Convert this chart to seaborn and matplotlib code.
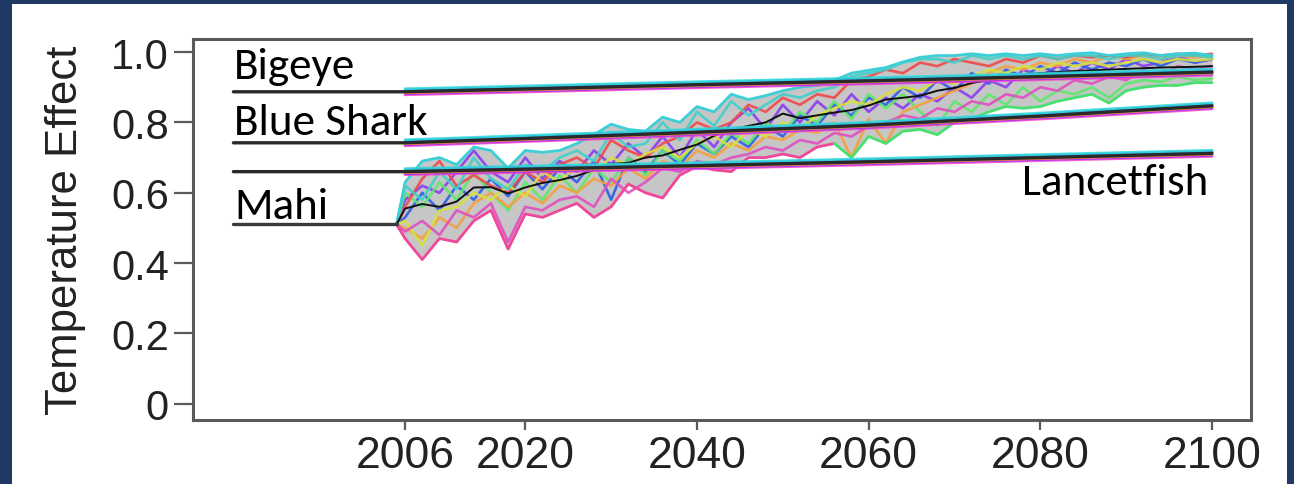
import numpy as np
import pandas as pd
import matplotlib
matplotlib.use("Agg")
import matplotlib.pyplot as plt
from matplotlib.patches import Rectangle
from matplotlib.transforms import offset_copy
from matplotlib import font_manager as fm
import seaborn as sns

# ---------------- data ----------------
# projection years (2005 start, then every second year)
proj_years = [2005] + list(range(2006, 2101, 2))

mahi_mean = [0.51,
    0.555, 0.568, 0.560, 0.575, 0.615, 0.616, 0.598, 0.615, 0.628, 0.636,
    0.648, 0.665, 0.682, 0.685, 0.700, 0.706, 0.722, 0.737, 0.762, 0.780,
    0.790, 0.800, 0.825, 0.812, 0.820, 0.828, 0.835, 0.848, 0.865, 0.870,
    0.876, 0.890, 0.898, 0.912, 0.920, 0.928, 0.935, 0.940, 0.943, 0.946,
    0.948, 0.950, 0.952, 0.954, 0.956, 0.957, 0.958, 0.960]
mahi_upper = [0.51,
    0.630, 0.690, 0.700, 0.680, 0.730, 0.720, 0.670, 0.720, 0.715, 0.720,
    0.740, 0.765, 0.795, 0.780, 0.775, 0.815, 0.800, 0.845, 0.830, 0.880,
    0.865, 0.876, 0.890, 0.900, 0.905, 0.920, 0.940, 0.948, 0.956, 0.972,
    0.985, 0.990, 0.990, 0.995, 0.990, 0.995, 0.990, 0.995, 0.990, 0.995,
    0.998, 0.990, 0.995, 0.998, 0.990, 0.995, 0.997, 0.990]
mahi_lower = [0.51,
    0.470, 0.410, 0.470, 0.460, 0.520, 0.550, 0.440, 0.540, 0.530, 0.550,
    0.570, 0.530, 0.560, 0.625, 0.600, 0.585, 0.650, 0.675, 0.665, 0.660,
    0.700, 0.700, 0.710, 0.700, 0.730, 0.740, 0.700, 0.760, 0.740, 0.775,
    0.780, 0.765, 0.800, 0.810, 0.830, 0.845, 0.840, 0.845, 0.860, 0.870,
    0.880, 0.855, 0.890, 0.900, 0.905, 0.905, 0.913, 0.913]

# individual model runs for Mahi
run_purple = [0.51,
    0.58, 0.62, 0.60, 0.66, 0.72, 0.66, 0.63, 0.70, 0.64, 0.69,
    0.66, 0.72, 0.68, 0.74, 0.70, 0.76, 0.70, 0.78, 0.73, 0.80,
    0.84, 0.78, 0.85, 0.80, 0.86, 0.82, 0.88, 0.83, 0.87, 0.84,
    0.88, 0.86, 0.90, 0.87, 0.92, 0.90, 0.95, 0.93, 0.96, 0.94,
    0.97, 0.95, 0.98, 0.96, 0.97, 0.99, 0.97, 0.98]
run_blue = [0.51,
    0.53, 0.60, 0.55, 0.62, 0.58, 0.64, 0.59, 0.66, 0.61, 0.67,
    0.63, 0.69, 0.58, 0.70, 0.66, 0.72, 0.68, 0.74, 0.71, 0.76,
    0.73, 0.79, 0.76, 0.82, 0.79, 0.85, 0.82, 0.87, 0.85, 0.90,
    0.87, 0.92, 0.89, 0.94, 0.91, 0.95, 0.93, 0.96, 0.94, 0.97,
    0.95, 0.97, 0.96, 0.98, 0.96, 0.98, 0.97, 0.98]
run_green = [0.51,
    0.60, 0.56, 0.63, 0.58, 0.66, 0.60, 0.55, 0.63, 0.58, 0.65,
    0.60, 0.67, 0.63, 0.70, 0.65, 0.72, 0.69, 0.75, 0.71, 0.77,
    0.74, 0.80, 0.77, 0.83, 0.80, 0.86, 0.81, 0.88, 0.84, 0.88,
    0.83, 0.79, 0.86, 0.83, 0.88, 0.85, 0.90, 0.86, 0.89, 0.88,
    0.90, 0.87, 0.91, 0.92, 0.915, 0.93, 0.92, 0.925]
run_orange = [0.51,
    0.50, 0.47, 0.53, 0.50, 0.57, 0.60, 0.56, 0.60, 0.57, 0.62,
    0.60, 0.64, 0.62, 0.67, 0.64, 0.69, 0.67, 0.72, 0.70, 0.74,
    0.72, 0.76, 0.75, 0.78, 0.77, 0.80, 0.70, 0.81, 0.74, 0.83,
    0.85, 0.87, 0.89, 0.91, 0.94, 0.96, 0.95, 0.97, 0.96, 0.98,
    0.97, 0.99, 0.98, 0.99, 0.98, 0.99, 0.985, 0.99]
run_red = [0.51,
    0.56, 0.64, 0.69, 0.62, 0.65, 0.62, 0.60, 0.66, 0.63, 0.68,
    0.70, 0.67, 0.75, 0.72, 0.70, 0.74, 0.76, 0.80, 0.78, 0.80,
    0.85, 0.83, 0.87, 0.85, 0.88, 0.87, 0.92, 0.93, 0.95, 0.94,
    0.97, 0.96, 0.98, 0.97, 0.96, 0.98, 0.97, 0.99, 0.98, 0.99,
    0.985, 0.99, 0.985, 0.995, 0.99, 0.995, 0.99, 0.995]
run_yellow = [0.51,
    0.52, 0.45, 0.55, 0.56, 0.60, 0.58, 0.62, 0.59, 0.66, 0.63,
    0.68, 0.66, 0.70, 0.68, 0.71, 0.73, 0.70, 0.74, 0.76, 0.73,
    0.78, 0.76, 0.80, 0.78, 0.82, 0.84, 0.86, 0.85, 0.88, 0.90,
    0.89, 0.92, 0.91, 0.93, 0.95, 0.94, 0.96, 0.95, 0.97, 0.96,
    0.97, 0.96, 0.97, 0.98, 0.97, 0.98, 0.975, 0.98]
run_teal = [0.51,
    0.62, 0.58, 0.66, 0.61, 0.70, 0.64, 0.61, 0.68, 0.66, 0.70,
    0.72, 0.69, 0.77, 0.73, 0.74, 0.80, 0.75, 0.83, 0.79, 0.86,
    0.82, 0.85, 0.88, 0.87, 0.89, 0.90, 0.93, 0.94, 0.95, 0.97,
    0.98, 0.98, 0.97, 0.99, 0.98, 0.99, 0.98, 0.99, 0.98, 0.99,
    0.99, 0.98, 0.99, 0.99, 0.98, 0.99, 0.99, 0.985]
run_magenta = [0.51,
    0.49, 0.52, 0.48, 0.55, 0.53, 0.57, 0.46, 0.56, 0.55, 0.58,
    0.59, 0.56, 0.64, 0.60, 0.63, 0.67, 0.66, 0.69, 0.68, 0.70,
    0.71, 0.73, 0.72, 0.75, 0.74, 0.77, 0.76, 0.79, 0.80, 0.82,
    0.81, 0.84, 0.83, 0.86, 0.85, 0.88, 0.87, 0.90, 0.89, 0.92,
    0.91, 0.93, 0.92, 0.95, 0.93, 0.96, 0.95, 0.96]

# species with near-identical runs
species_years = [1986, 2006, 2020, 2040, 2060, 2080, 2100]
bigeye = [0.887, 0.887, 0.895, 0.907, 0.918, 0.930, 0.943]
blue_shark = [0.742, 0.742, 0.754, 0.772, 0.792, 0.818, 0.847]
lancetfish = [0.660, 0.660, 0.667, 0.677, 0.688, 0.700, 0.712]
mahi_base_years = [1986, 2005]
mahi_base = [0.51, 0.51]

x_ticks = [2006, 2020, 2040, 2060, 2080, 2100]
y_ticks = [0, 0.2, 0.4, 0.6, 0.8, 1.0]
y_tick_labels = ["0", "0.2", "0.4", "0.6", "0.8", "1.0"]

# ---------------- style ----------------
sns.set_theme(style="white")
names = {f.name for f in fm.fontManager.ttflist}
axis_font = "Liberation Sans" if "Liberation Sans" in names else "DejaVu Sans"
label_font = "Carlito" if "Carlito" in names else "Open Sans"
plt.rcParams["font.family"] = [axis_font, "DejaVu Sans"]

navy = "#1f3864"
spine_col = "#5a5a5a"

fig = plt.figure(figsize=(12.94, 4.85), dpi=100, facecolor=navy)
fig.patches.append(Rectangle((12 / 1294, 0), (1286.7 - 12) / 1294, 480 / 485,
                             transform=fig.transFigure, facecolor="white",
                             edgecolor="none", zorder=-10))
ax = fig.add_axes([0.1492, 0.1326, 0.9665 - 0.1492, 0.9175 - 0.1326])
ax.set_zorder(5)
ax.set_facecolor("white")

# Mahi ensemble ribbon
ax.fill_between(proj_years, mahi_lower, mahi_upper, color="#c6c6c6", lw=0, zorder=1)

run_sets = {"purple": run_purple, "blue": run_blue, "green": run_green,
            "orange": run_orange, "red": run_red, "yellow": run_yellow,
            "teal": run_teal, "magenta": run_magenta}
runs = pd.DataFrame({
    "year": proj_years * len(run_sets),
    "value": sum(run_sets.values(), []),
    "run": sum([[k] * len(proj_years) for k in run_sets], []),
})
palette = {"purple": "#8a3cf0", "blue": "#2f5de8", "green": "#5de86a",
           "orange": "#f5a040", "red": "#ef4a4a", "yellow": "#d8e040",
           "teal": "#40d0c8", "magenta": "#e050c0"}
sns.lineplot(data=runs, x="year", y="value", hue="run", palette=palette,
             estimator=None, legend=False, lw=1.9, alpha=0.9, ax=ax, zorder=2)

# envelope edges
split = proj_years.index(2056)
sns.lineplot(x=proj_years, y=mahi_upper, color="#3ccfd8", lw=2.0, ax=ax, zorder=2)
sns.lineplot(x=proj_years[:split + 1], y=mahi_lower[:split + 1], color="#f0479a",
             lw=2.0, ax=ax, zorder=2)
sns.lineplot(x=proj_years[split:], y=mahi_lower[split:], color="#48e070",
             lw=2.0, ax=ax, zorder=2)
# ensemble mean
sns.lineplot(x=proj_years, y=mahi_mean, color="#111111", lw=1.4, ax=ax, zorder=3)
sns.lineplot(x=mahi_base_years, y=mahi_base, color="#3a3a3a", lw=2.4, ax=ax, zorder=3)

# species lines with a fringe of coloured runs
fringe = [(-3, "#ff3fc8"), (-2, "#9a30ff"), (-1, "#ff9a20"),
          (1, "#40d860"), (2, "#3a7cff"), (3, "#2ed8d8")]
for vals in (bigeye, blue_shark, lancetfish):
    for dy, col in fringe:
        tr = offset_copy(ax.transData, fig=fig, x=0, y=dy, units="dots")
        ax.plot(species_years[1:], vals[1:], color=col, lw=2.0, alpha=0.85,
                transform=tr, zorder=4)
    sns.lineplot(x=species_years, y=vals, color="#2a2a2a", lw=2.4, ax=ax, zorder=5)

# species names
ann = dict(fontsize=32.5, family=[label_font, "DejaVu Sans"], color="black",
           va="baseline", zorder=6)
ax.text(1986.1, 0.925, "Bigeye", ha="left", **ann)
ax.text(1986.1, 0.768, "Blue Shark", ha="left", **ann)
ax.text(1986.1, 0.528, "Mahi", ha="left", **ann)
ax.text(2099.6, 0.597, "Lancetfish", ha="right", **ann)

# axes
ax.set_xlim(1981.3, 2104.5)
ax.set_ylim(-0.045, 1.037)
ax.set_xticks(x_ticks)
ax.set_xticklabels([str(t) for t in x_ticks])
ax.set_yticks(y_ticks)
ax.set_yticklabels(y_tick_labels)
ax.set_xlabel("")
ax.set_ylabel("Temperature Effect", fontsize=31.5, color="#222222", labelpad=18)
for s in ax.spines.values():
    s.set_visible(True)
    s.set_color(spine_col)
    s.set_linewidth(2.2)
ax.tick_params(axis="x", length=7, width=1.6, color=spine_col,
               labelsize=32, labelcolor="#222222", pad=4, bottom=True)
ax.tick_params(axis="y", length=13.5, width=1.6, color=spine_col,
               labelsize=30, labelcolor="#222222", pad=4, left=True)
ax.grid(False)

fig.savefig("out.png", dpi=100, facecolor=navy)
